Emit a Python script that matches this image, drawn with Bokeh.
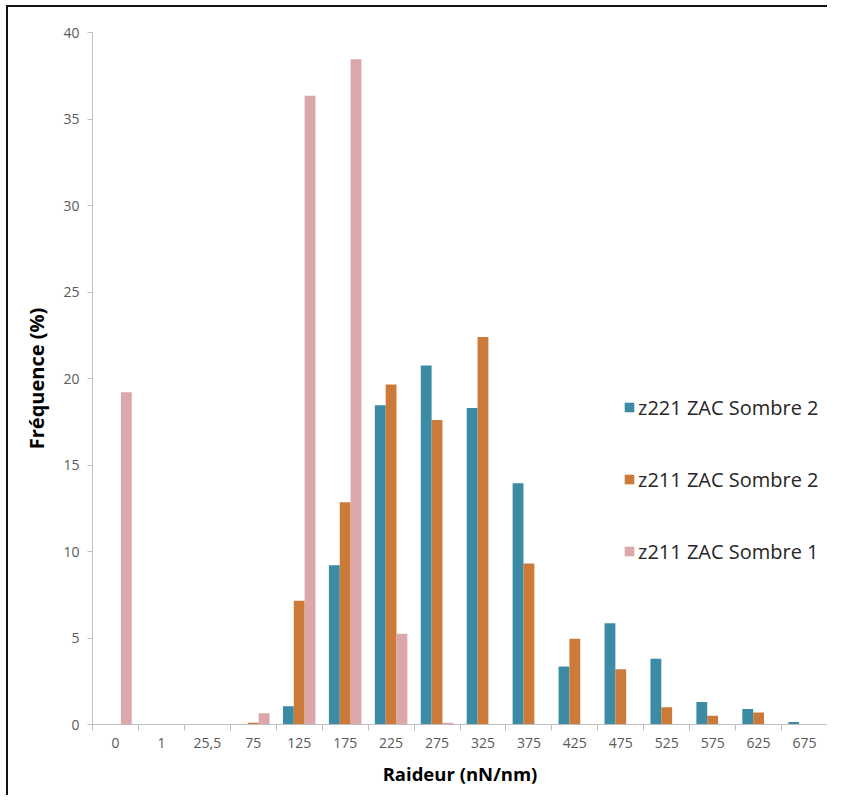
from bokeh.plotting import figure
from bokeh.models import Range1d, FixedTicker, Legend, LegendItem
from bokeh.embed import file_html
from bokeh.resources import INLINE

categories = ["0", "1", "25,5", "75", "125", "175", "225", "275",
              "325", "375", "425", "475", "525", "575", "625", "675"]
z221_sombre2 = [0, 0, 0, 0, 1.05, 9.2, 18.45, 20.75, 18.3, 13.95, 3.35, 5.85, 3.8, 1.3, 0.9, 0.15]
z211_sombre2 = [0, 0, 0, 0.1, 7.15, 12.85, 19.65, 17.6, 22.4, 9.3, 4.95, 3.2, 1.0, 0.5, 0.7, 0]
z211_sombre1 = [19.2, 0, 0, 0.65, 36.35, 38.45, 5.25, 0.1, 0, 0, 0, 0, 0, 0, 0, 0]
series_names = ["z221 ZAC Sombre 2", "z211 ZAC Sombre 2", "z211 ZAC Sombre 1"]
series_colors = ["#3A8BA3", "#CC7A3A", "#DBA7AA"]
y_ticks = [0, 5, 10, 15, 20, 25, 30, 35, 40]

FONT = "Open Sans"
AXIS_COLOR = "#BFBFBF"
LABEL_COLOR = "#595959"

p = figure(width=821, height=790, output_backend="svg", toolbar_location=None,
           x_range=Range1d(-0.5, len(categories) - 0.5), y_range=Range1d(0, 40),
           min_border_left=84, min_border_right=2, min_border_top=25, min_border_bottom=73)
p.styles = {"margin-left": "6px", "margin-top": "5px",
            "border-top": "2px solid #111111", "border-left": "2px solid #111111"}
p.outline_line_color = None
p.xgrid.grid_line_color = None
p.ygrid.grid_line_color = None
p.background_fill_color = "white"
p.border_fill_color = "white"

idx = list(range(len(categories)))
bar_w = 0.236
renderers = []
for k, (vals, col) in enumerate(zip([z221_sombre2, z211_sombre2, z211_sombre1], series_colors)):
    xs = [i + (k - 1) * bar_w for i in idx]
    r = p.vbar(x=xs, top=vals, width=bar_w, bottom=0, fill_color=col, line_color=None)
    renderers.append(r)

# x axis: labels at category centers, ticks at category boundaries
xa = p.xaxis[0]
xa.ticker = FixedTicker(ticks=idx, minor_ticks=[i - 0.5 for i in range(len(categories) + 1)])
xa.major_label_overrides = {i: c for i, c in zip(idx, categories)}
xa.major_tick_in = 0
xa.major_tick_out = 0
xa.minor_tick_in = 0
xa.minor_tick_out = 6
xa.minor_tick_line_color = AXIS_COLOR
xa.axis_line_color = AXIS_COLOR
xa.major_label_text_font = FONT
xa.major_label_text_font_size = "14px"
xa.major_label_text_color = LABEL_COLOR
xa.major_label_standoff = 7
xa.axis_label = "Raideur (nN/nm)"
xa.axis_label_text_font = FONT
xa.axis_label_text_font_style = "bold"
xa.axis_label_text_font_size = "18.5px"
xa.axis_label_text_color = "#000000"
xa.axis_label_standoff = 10

ya = p.yaxis[0]
ya.ticker = FixedTicker(ticks=y_ticks)
ya.minor_tick_line_color = None
ya.major_tick_in = 0
ya.major_tick_out = 5
ya.major_tick_line_color = AXIS_COLOR
ya.axis_line_color = AXIS_COLOR
ya.major_label_text_font = FONT
ya.major_label_text_font_size = "14px"
ya.major_label_text_color = LABEL_COLOR
ya.major_label_standoff = 8
ya.axis_label = "Fréquence (%)"
ya.axis_label_text_font = FONT
ya.axis_label_text_font_style = "bold"
ya.axis_label_text_font_size = "20px"
ya.axis_label_text_color = "#000000"
ya.axis_label_standoff = 10

legend = Legend(items=[LegendItem(label=n, renderers=[r]) for n, r in zip(series_names, renderers)],
                location=(531, 158), orientation="vertical")
legend.padding = 0
legend.margin = 0
legend.spacing = 42
legend.glyph_width = 12
legend.glyph_height = 12
legend.label_height = 30
legend.label_standoff = 3
legend.label_text_font = FONT
legend.label_text_font_size = "20px"
legend.label_text_color = "#262626"
legend.border_line_color = None
legend.background_fill_alpha = 0
p.add_layout(legend, "center")

open("out.html", "w").write(file_html(p, INLINE))
